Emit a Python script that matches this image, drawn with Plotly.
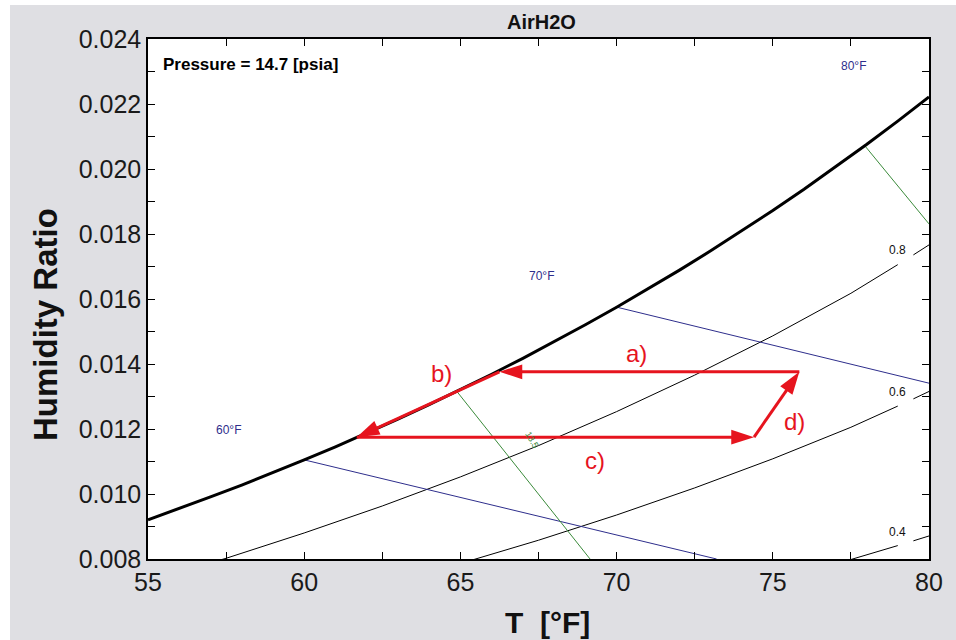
import plotly.graph_objects as go

# ---------------- data ----------------
T_sat = [55, 56, 57, 58, 59, 60, 61, 62, 63, 64, 65, 66, 67, 68, 69, 70, 71, 72, 73, 74, 75, 76, 77, 78, 79, 80]
W_sat = [0.009208, 0.009553, 0.009909, 0.010276, 0.010656, 0.011047, 0.011452, 0.011870, 0.012302, 0.012748,
         0.013208, 0.013684, 0.014175, 0.014682, 0.015206, 0.015746, 0.016304, 0.016880, 0.017475, 0.018089,
         0.018723, 0.019378, 0.020054, 0.020752, 0.021473, 0.022217]

T_rh = [55, 57.5, 60, 62.5, 65, 67.5, 70, 72.5, 75, 77.5, 79.0, None, 79.5, 80]
W_rh80 = [0.007335, 0.008022, 0.008801, 0.009631, 0.010526, 0.011490, 0.012535, 0.013658, 0.014866, 0.016175, 0.017057, None, 0.017357, 0.017665]
W_rh60 = [0.005485, 0.005997, 0.006577, 0.007195, 0.007861, 0.008578, 0.009354, 0.010187, 0.011083, 0.012053, 0.012705, None, 0.012927, 0.013155]
W_rh40 = [0.003646, 0.003990, 0.004380, 0.004790, 0.005240, 0.005720, 0.006230, 0.006755, 0.007345, 0.007984, 0.008413, None, 0.008559, 0.008709]
RH_labels = ["0.8", "0.6", "0.4"]
RH_label_W = [0.017508, 0.013138, 0.008831]

T_wb60 = [60.0, 73.2]
W_wb60 = [0.01105, 0.0080]
T_wb70 = [70.0, 80.0]
W_wb70 = [0.01575, 0.01341]
WB_labels = ["60°F", "70°F", "80°F"]
WB_label_T = [57.59, 67.58, 77.57]
WB_label_W = [0.01197, 0.01671, 0.02317]

T_v135 = [64.9, 69.15]
W_v135 = [0.01314, 0.0080]
T_v140 = [77.95, 80.0]
W_v140 = [0.02071, 0.01831]

# process steps a) b) c) d)
proc_names = ["a)", "b)", "c)", "d)"]
proc_T = [[75.85, 66.25], [66.25, 61.68], [61.68, 74.40], [74.40, 75.85]]
proc_W = [[0.01376, 0.01376], [0.01376, 0.011745], [0.01175, 0.01175], [0.01175, 0.01376]]
proc_label_T = [70.65, 64.38, 69.31, 75.71]
proc_label_W = [0.014308, 0.013723, 0.011046, 0.012246]

# ---------------- figure ----------------
FONT = "Liberation Sans, Arial, sans-serif"
RED = "#e6141e"
NAVY = "#2e2e8c"
GREEN = "#3a8a3a"

fig = go.Figure()

fig.add_trace(go.Scatter(x=T_rh, y=W_rh80, mode="lines", line=dict(color="black", width=1), connectgaps=False))
fig.add_trace(go.Scatter(x=T_rh, y=W_rh60, mode="lines", line=dict(color="black", width=1), connectgaps=False))
fig.add_trace(go.Scatter(x=T_rh, y=W_rh40, mode="lines", line=dict(color="black", width=1), connectgaps=False))
fig.add_trace(go.Scatter(x=T_wb60, y=W_wb60, mode="lines", line=dict(color=NAVY, width=1)))
fig.add_trace(go.Scatter(x=T_wb70, y=W_wb70, mode="lines", line=dict(color=NAVY, width=1)))
fig.add_trace(go.Scatter(x=T_v135, y=W_v135, mode="lines", line=dict(color=GREEN, width=1)))
fig.add_trace(go.Scatter(x=T_v140, y=W_v140, mode="lines", line=dict(color=GREEN, width=1)))
fig.add_trace(go.Scatter(x=T_sat, y=W_sat, mode="lines", line=dict(color="black", width=3)))

for tx, wy in zip(proc_T, proc_W):
    fig.add_trace(go.Scatter(
        x=tx, y=wy, mode="lines+markers",
        line=dict(color=RED, width=3),
        marker=dict(symbol="arrow", size=[0, 24], angleref="previous", color=RED,
                    opacity=[0, 1], line=dict(width=0)),
    ))

ann = []
for name, tx, wy in zip(proc_names, proc_label_T, proc_label_W):
    ann.append(dict(x=tx, y=wy, xref="x", yref="y", text=name, showarrow=False,
                    font=dict(family=FONT, size=24, color=RED)))
for name, tx, wy in zip(WB_labels, WB_label_T, WB_label_W):
    ann.append(dict(x=tx, y=wy, xref="x", yref="y", text=name, showarrow=False,
                    font=dict(family=FONT, size=12, color=NAVY)))
for name, wy in zip(RH_labels, RH_label_W):
    ann.append(dict(x=78.98, y=wy, xref="x", yref="y", text=name, showarrow=False,
                    font=dict(family=FONT, size=12, color="#111")))
ann.append(dict(x=67.29, y=0.01166, xref="x", yref="y", text="13.5", showarrow=False,
                textangle=60, font=dict(family=FONT, size=9, color=GREEN)))

W_FIG, H_FIG = 956, 640
ML, MR, MT, MB = 148, 27, 39, 81
PW = W_FIG - ML - MR   # 781
PH = H_FIG - MT - MB   # 520


def px_x(px):  # page pixel -> paper x
    return (px - ML) / PW


def px_y(py):  # page pixel -> paper y
    return (H_FIG - MB - py) / PH


ann.append(dict(x=px_x(161), y=px_y(64), xref="paper", yref="paper", text="Pressure = 14.7 [psia]",
                showarrow=False, xanchor="left", yanchor="middle",
                font=dict(family=FONT, size=17, color="black", weight="bold")))
ann.append(dict(x=px_x(541.5), y=px_y(22), xref="paper", yref="paper", text="AirH2O",
                showarrow=False, xanchor="center", yanchor="middle",
                font=dict(family=FONT, size=20, color="#111", weight="bold")))
ann.append(dict(x=px_x(45), y=px_y(325), xref="paper", yref="paper", text="Humidity Ratio",
                showarrow=False, textangle=-90, xanchor="center", yanchor="middle",
                font=dict(family=FONT, size=33, color="#111", weight="bold")))
ann.append(dict(x=px_x(547), y=px_y(622), xref="paper", yref="paper", text="T  [°F]",
                showarrow=False, xanchor="center", yanchor="middle",
                font=dict(family=FONT, size=30, color="#111", weight="bold")))

GRAY = "#dfdfe3"
shapes = [
    dict(type="rect", xref="paper", yref="paper", x0=px_x(-20), x1=px_x(10), y0=px_y(700), y1=px_y(-20),
         fillcolor="white", line=dict(width=0), layer="below"),
    dict(type="rect", xref="paper", yref="paper", x0=px_x(-20), x1=px_x(1000), y0=px_y(5), y1=px_y(-20),
         fillcolor="white", line=dict(width=0), layer="below"),
]

axis_common = dict(showgrid=False, zeroline=False, showline=True, linecolor="black", linewidth=1.5,
                   mirror="allticks", ticks="inside", ticklen=7, tickcolor="black", tickwidth=1,
                   tickfont=dict(family=FONT, size=25, color="#1a1a1a"))

fig.update_layout(
    width=W_FIG, height=H_FIG,
    margin=dict(l=ML, r=MR, t=MT, b=MB),
    paper_bgcolor=GRAY, plot_bgcolor="white",
    showlegend=False,
    annotations=ann, shapes=shapes,
    xaxis=dict(range=[55, 80], tickmode="linear", tick0=55, dtick=5,
               minor=dict(dtick=2.5, ticks="inside", ticklen=7, tickcolor="black"),
               **axis_common),
    yaxis=dict(range=[0.008, 0.024], tickmode="linear", tick0=0.008, dtick=0.002, tickformat=".3f",
               minor=dict(dtick=0.001, ticks="inside", ticklen=7, tickcolor="black"),
               **axis_common),
)

fig.write_html("out.html",
               config={"displayModeBar": False},
               post_script="document.body.style.margin='0';document.body.style.overflow='hidden';")
